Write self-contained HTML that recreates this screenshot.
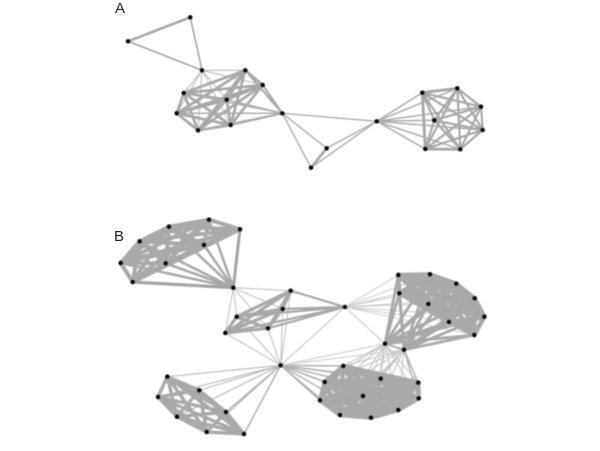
<!DOCTYPE html>
<html>
<head>
<meta charset="utf-8">
<style>
html,body{margin:0;padding:0;background:#fff;width:600px;height:451px;overflow:hidden}
svg{display:block}
text{font-family:"Liberation Sans",sans-serif;font-size:15px;fill:#222}
</style>
</head>
<body>
<svg id="s" xmlns="http://www.w3.org/2000/svg" width="600" height="451" viewBox="0 0 600 451">
<defs><filter id="b" x="-5%" y="-5%" width="110%" height="110%"><feGaussianBlur stdDeviation="0.45"/></filter></defs>
<g id="e" filter="url(#b)" stroke-linecap="round" fill="none"></g>
<g id="n" filter="url(#b)" fill="#000"></g>
<text x="115" y="13">A</text>
<text x="114" y="241">B</text>
</svg>
<script>
var NS="http://www.w3.org/2000/svg",E=document.getElementById("e"),N=document.getElementById("n");
function path(pairs,w,c){var d="";pairs.forEach(function(p){d+="M"+p[0][0]+" "+p[0][1]+"L"+p[1][0]+" "+p[1][1]});
var el=document.createElementNS(NS,"path");el.setAttribute("d",d);el.setAttribute("stroke-width",w);el.setAttribute("stroke",c);E.appendChild(el)}
function clique(a,w,c){var r=[];for(var i=0;i<a.length;i++)for(var j=i+1;j<a.length;j++)r.push([a[i],a[j]]);path(r,w,c)}
function hub(h,a,w,c){path(a.map(function(p){return[h,p]}),w,c)}
function cross(a,b,w,c){a.forEach(function(h){hub(h,b,w,c)})}

var a0=[128,41.3],a1=[190.3,17.3],a2=[202,70.3];
var aC=[[245.3,70.3],[262.7,85],[183.7,93],[226.7,99.7],[176.7,113.3],[198,130.3],[230.7,125]];
var aH=[282.3,113.3],aM=[376.7,121.3],a3=[326.7,148.3],a4=[311,167.7];
var aR=[[422.3,92.7],[457.3,88.3],[481,106.7],[482.7,130],[460.3,149.3],[425.3,149],[434.3,120.3]];

var bU=[[209,219.7],[240,229.3],[169,226.7],[139.7,241.3],[204,245],[165.7,263.3],[120.7,263],[132.7,282]];
var bH=[233.3,287.7];
var bM=[[290.7,290.7],[282.7,309],[236.7,316.7],[268,328.3],[225.3,333]];
var bK=[345,307];
var bR=[[398.3,275],[430,274.3],[456.3,283.7],[474.7,298.3],[484.3,316.7],[474.3,335],[449,322],[428.3,304],[399.3,293.3]];
var bP=[[385,343.7],[404,349.7]];
var bJ=[280.7,365.3];
var bL=[[167.3,376.7],[199.3,390.3],[158,397],[226,412],[177,416.7],[206.7,432],[244,434]];
var bS=[[343.3,366],[324.7,382],[380.7,378.7],[418.3,382.7],[418.7,398.3],[363,396],[320,400.3],[398.3,410],[340,415],[371,417.7]];

/* A */
path([[a0,a1]],2.6,"#a6a6a6");
path([[a0,a2],[a1,a2]],1.6,"#a4a4a4");
hub(a2,aC,1.1,"#bdbdbd");
clique(aC,2.7,"#a8a8a8");
hub(aH,aC,1.5,"#acacac");
path([[aC[0],aH],[aC[1],aH],[aC[6],aH]],2,"#a8a8a8");
path([[aH,aM],[aH,a3],[aH,a4],[aM,a3],[aM,a4]],1.4,"#acacac");
path([[a3,a4]],2.8,"#a8a8a8");
hub(aM,aR,1.5,"#acacac");
clique(aR,2.2,"#a8a8a8");
path([[aR[0],aR[5]],[aR[5],aR[4]],[aR[0],aR[1]]],2.8,"#a6a6a6");

/* B connectors (light) */
hub(bH,bM,1.1,"#c4c4c4");
hub(bJ,bM,1.1,"#c4c4c4");
hub(bK,bR,1.1,"#d0d0d0");
path([[bK,bP[0]],[bK,bJ]],1.1,"#c8c8c8");
hub(bJ,bL,1.2,"#bcbcbc");
path([[bJ,bL[3]],[bJ,bL[6]]],1.4,"#b0b0b0");
hub(bJ,bS,1.4,"#b0b0b0");
cross(bP,bS,1.1,"#c6c6c6");
path([[bJ,bP[0]],[bJ,bP[1]]],1.1,"#cfcfcf");
path([[bP[1],bS[3]],[bP[1],bS[4]]],1.5,"#b4b4b4");

/* B clusters */
hub(bH,bU,2.5,"#a8a8a8");
clique(bU,4,"#a9a9a9");
path([[bU[1],bH]],3,"#a4a4a4");
path([[bU[7],bH]],3.2,"#a4a4a4");
clique(bM,3.2,"#a9a9a9");
hub(bK,bM,2.2,"#a8a8a8");
clique(bR,4.4,"#a9a9a9");
cross(bP,bR,2.8,"#a9a9a9");
path([[bP[0],bP[1]]],2,"#aaa");
clique(bL,3.4,"#a9a9a9");
clique(bS,4.4,"#a9a9a9");

[a0,a1,a2,aH,aM,a3,a4,bH,bK,bJ].concat(aC,aR,bU,bM,bR,bP,bL,bS).forEach(function(p){
var c=document.createElementNS(NS,"circle");c.setAttribute("cx",p[0]);c.setAttribute("cy",p[1]);c.setAttribute("r",2.2);N.appendChild(c)});
</script>
</body>
</html>
